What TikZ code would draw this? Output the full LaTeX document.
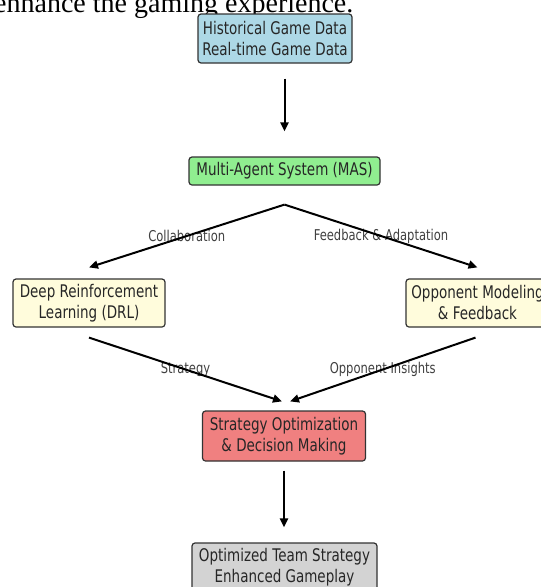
\documentclass[tikz,border=0pt]{standalone}
\usepackage{fontspec}
\setmainfont{DejaVu Sans}[FakeStretch=0.775]
\newfontfamily\captionfont{Liberation Serif}
\usetikzlibrary{arrows.meta,calc}
\definecolor{boxblue}{RGB}{173,216,230}
\definecolor{boxgreen}{RGB}{144,238,144}
\definecolor{boxyellow}{RGB}{255,252,220}
\definecolor{boxred}{RGB}{240,128,128}
\definecolor{boxgray}{RGB}{211,211,211}
\begin{document}
\begin{tikzpicture}[x=1pt,y=-1pt,
  box/.style={draw=black!80,line width=1.2pt,rounded corners=3pt,align=center,
    text=black!85,font=\fontsize{17.4}{21}\selectfont,inner sep=2pt},
  lbl/.style={text=black!75,font=\fontsize{14.9}{17}\selectfont,inner sep=0pt},
  arr/.style={line width=2pt,-{Triangle[length=9pt,width=8pt]}}]
\useasboundingbox (0,0) rectangle (541,587);
\clip (0,0) rectangle (541,587);

\node[anchor=base west,inner sep=0pt,font=\captionfont\fontsize{28}{30}\selectfont] (cap) at (-6,12.5) {enhance the gaming experience.};

\node[box,fill=boxblue,minimum width=154pt,minimum height=49pt] (data) at (275,38.5) {Historical Game Data\\Real-time Game Data};
\node[box,fill=boxgreen,minimum width=191pt,minimum height=28pt] (mas) at (284.5,171) {Multi-Agent System (MAS)};
\node[box,fill=boxyellow,minimum width=152pt,minimum height=48pt] (drl) at (89,303) {Deep Reinforcement\\Learning (DRL)};
\node[box,fill=boxyellow,minimum width=143pt,minimum height=48pt] (opp) at (477.5,303) {Opponent Modeling\\\& Feedback};
\node[box,fill=boxred,minimum width=163pt,minimum height=50pt] (strat) at (284,436) {Strategy Optimization\\\& Decision Making};
\node[box,fill=boxgray,minimum width=185pt,minimum height=48pt] (out) at (284.5,567) {Optimized Team Strategy\\Enhanced Gameplay};

% ends of the slanted arrows
\coordinate (masout) at ([yshift=-19pt]mas.south);
\coordinate (drlin) at ([yshift=11pt]drl.north);
\coordinate (oppin) at ([yshift=11pt]opp.north);
\coordinate (drlout) at ([yshift=-10pt]drl.south);
\coordinate (oppout) at ([xshift=-2pt,yshift=-10pt]opp.south);
\coordinate (stratl) at ([xshift=-2pt,yshift=9pt]strat.north);
\coordinate (stratr) at ([xshift=6pt,yshift=9pt]strat.north);

\foreach \a/\b/\n/\t in {masout/drlin/collab/Collaboration,masout/oppin/feedback/{Feedback \& Adaptation},
    drlout/stratl/strategy/Strategy,oppout/stratr/insights/Opponent Insights}
    \node[lbl] (\n) at ($(\a)!.5!(\b)$) {\t};

\draw[arr,shorten <=15pt,shorten >=25pt] (data.south -| mas.north) -- (mas.north);
\foreach \a/\b in {masout/drlin,masout/oppin,drlout/stratl,oppout/stratr}
    \draw[arr] (\a) -- (\b);
\draw[arr,shorten <=9pt,shorten >=15pt] (strat.south) -- (strat.south |- out.north);
\end{tikzpicture}
\end{document}
